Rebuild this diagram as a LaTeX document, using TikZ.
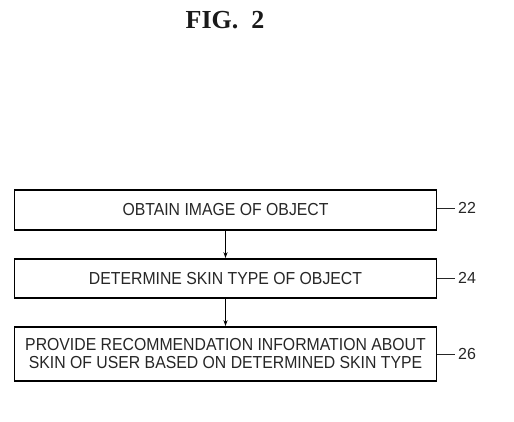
\documentclass[tikz,border=0pt]{standalone}
\usepackage{fontspec}
\setmainfont{Liberation Sans}
\newfontfamily\titlefont{Liberation Serif}
\usetikzlibrary{arrows.meta}
\begin{document}
\begin{tikzpicture}[x=1pt,y=-1pt,
  stepbox/.style={draw=black,line width=1.6pt,rectangle,minimum width=422pt,inner sep=0pt,
    font=\fontsize{15.8}{18}\selectfont,text=black!85,align=center},
  leader/.style={line width=0.8pt,draw=black!85},
  reflabel/.style={anchor=west,inner sep=0pt,font=\fontsize{16}{18}\selectfont,text=black!85},
  flow/.style={line width=1pt,-{Stealth[length=6pt,width=4pt]}}]
\useasboundingbox (0,0) rectangle (514,421);
\node[font=\titlefont\bfseries\fontsize{26}{30}\selectfont,text=black!90] (title) at (225,20) {FIG.\ \ 2};
\node[stepbox,minimum height=40pt] (s22) at (225.5,210) {\scalebox{1}[1.1]{OBTAIN IMAGE OF OBJECT}};
\node[stepbox,minimum height=39pt] (s24) at (225.5,278.5) {\scalebox{1}[1.1]{DETERMINE SKIN TYPE OF OBJECT}};
\node[stepbox,minimum height=54pt] (s26) at (225.5,354) {\scalebox{1}[1.1]{PROVIDE RECOMMENDATION INFORMATION ABOUT}\\\scalebox{1}[1.1]{SKIN OF USER BASED ON DETERMINED SKIN TYPE}};
\draw[flow] (s22.south) -- (s24.north);
\draw[flow] (s24.south) -- (s26.north);
\coordinate (e22) at (455,208);
\coordinate (e24) at (455,278);
\coordinate (e26) at (455,354);
\draw[leader] (s22.east |- e22) -- (e22);
\draw[leader] (s24.east |- e24) -- (e24);
\draw[leader] (s26.east |- e26) -- (e26);
\node[reflabel] (l22) at (458,208) {22};
\node[reflabel] (l24) at (458,278) {24};
\node[reflabel] (l26) at (458,354) {26};
\end{tikzpicture}
\end{document}
